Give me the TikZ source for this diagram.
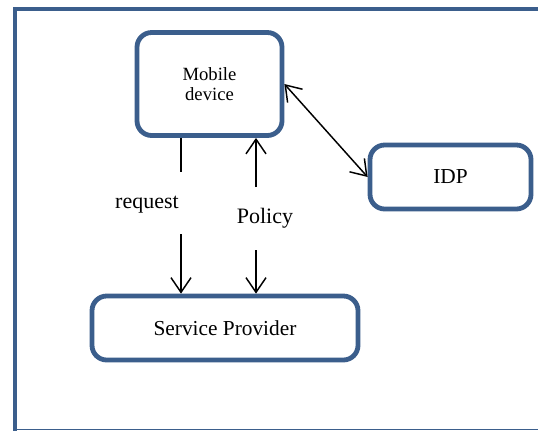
\documentclass[tikz,border=0pt]{standalone}
\usepackage{xcolor}
\definecolor{frameBlue}{HTML}{3B5E8C}
\usepackage{fontspec}
\setmainfont{Liberation Serif}
\usepackage{tikz}
\usetikzlibrary{arrows.meta}

\begin{document}
\begin{tikzpicture}[
            x=0.75pt, y=-0.75pt,
            barb/.tip={Straight Barb[length=11pt,width=15pt,line width=1.1pt]},
            box/.style={
                draw=frameBlue,
                rectangle,
                rounded corners=11pt,
                line width=3.6pt,
                fill=white,
                align=center,
                inner sep=0pt,
                font=\fontsize{16}{19}\selectfont
            },
            arrow/.style={
                -barb,
                line width=1.1pt,
                color=black
            },
            twoway/.style={
                barb-barb,
                line width=1.1pt,
                color=black
            },
            label/.style={
                font=\fontsize{16.5}{19}\selectfont,
                inner sep=0pt
            }
        ]
            \useasboundingbox (0,0) rectangle (538,430);
            \clip (0,0) rectangle (538,430);

            % outer frame
            \draw[frameBlue, line width=3pt] (15,440) -- (15,9) -- (550,9);
            \draw[frameBlue, line width=0.8pt] (15,429.5) -- (550,429.5);

            \node (mobile) [box, minimum width=108.75pt, minimum height=77.25pt,
                font=\fontsize{14}{15}\selectfont] at (209.5,84) {Mobile\\device};
            \node (idp) [box, minimum width=120.75pt, minimum height=48pt] at (450.5,177) {IDP};
            \node (sp) [box, minimum width=199.5pt, minimum height=48pt] at (225,328) {Service Provider};

            \coordinate (reqtop) at (181,172);
            \coordinate (reqbot) at (181,234);
            \coordinate (poltop) at (256,187);
            \coordinate (polbot) at (256,250);

            \node (request) [label] at (147,205) {request};
            \node (policy) [label] at (265,218) {Policy};

            \draw[line width=1.1pt] (reqtop |- mobile.south) -- (reqtop);
            \draw[arrow] (reqbot) -- (reqbot |- sp.north);
            \draw[arrow] (poltop) -- (poltop |- mobile.south);
            \draw[arrow] (polbot) -- (polbot |- sp.north);
            \draw[twoway] (mobile.east) -- (idp.west);
        \end{tikzpicture}
\end{document}
